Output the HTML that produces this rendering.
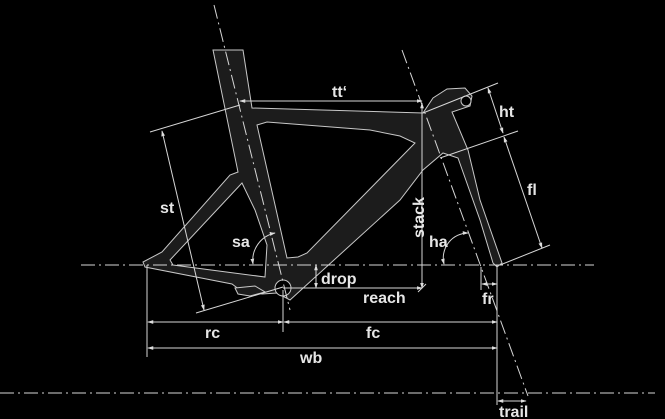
<!DOCTYPE html>
<html><head><meta charset="utf-8"><style>
html,body{margin:0;padding:0;background:#000;}
svg{display:block}
text{font-family:"Liberation Sans",sans-serif;font-weight:bold;fill:#e6e6e6;font-size:16px}
</style></head><body>
<svg width="665" height="419" viewBox="0 0 665 419" xmlns="http://www.w3.org/2000/svg">
<defs>
<marker id="a" viewBox="0 0 8 8" refX="7" refY="4" markerWidth="6" markerHeight="6" orient="auto-start-reverse"><path d="M0,1.5 L8,4 L0,6.5z" fill="#ddd"/></marker>
</defs>
<g fill="#1c1c1c" stroke="#c8c8c8" stroke-width="1">
<path d="M213,50 L243,50 L252,108 L423,113 L433,98 L447,89 L465,88 L472,96 L470,106 L452,112 L468,150 L480,200 L502,263 L497,267 L493,263 L480,220 L458,158 L443,153 L423,170 L400,200 L290,300 L277,293 L262,294 L240,290 L232,284 L145,267 L143,262 L162,252 L230,175 L238,172 Z"/>
<path d="M257,125 L267,122 L370,130 L400,136 L415,143 L307,253 L298,257 L287,258 Z" fill="#000"/>
<path d="M242,183 L170,260 L173,265 L265,277 L267,245 L255,210 Z" fill="#000"/>
<path d="M235,288 L255,286 L265,292 L250,296 L238,294 Z"/>
<circle cx="283" cy="288" r="8" fill="#000"/>
<circle cx="466" cy="101" r="5" fill="#000"/>
</g>
<g fill="none" stroke="#d6d6d6" stroke-width="1">
<line x1="81" y1="265" x2="594" y2="265" stroke-dasharray="14,4,2,4"/>
<line x1="0" y1="393" x2="655" y2="393" stroke-dasharray="14,4,2,4"/>
<line x1="214" y1="5" x2="290" y2="310" stroke-dasharray="14,4,2,4"/>
<line x1="402" y1="50" x2="528" y2="396" stroke-dasharray="14,4,2,4"/>
<line x1="150" y1="132" x2="240" y2="105"/>
<line x1="196" y1="313" x2="283" y2="287"/>
<line x1="162" y1="131" x2="204" y2="310" marker-start="url(#a)" marker-end="url(#a)"/>
<line x1="240" y1="101" x2="422" y2="101" marker-start="url(#a)" marker-end="url(#a)"/>
<line x1="422" y1="103" x2="422" y2="288" marker-start="url(#a)" marker-end="url(#a)"/>
<line x1="283" y1="288" x2="422" y2="288" marker-end="url(#a)"/>
<line x1="418" y1="292" x2="426" y2="284"/>
<line x1="316" y1="265" x2="316" y2="288" marker-start="url(#a)" marker-end="url(#a)"/>
<line x1="423" y1="113" x2="498" y2="83"/>
<line x1="440" y1="158" x2="518" y2="131"/>
<line x1="500" y1="265" x2="550" y2="245"/>
<line x1="488" y1="88" x2="503" y2="133" marker-start="url(#a)" marker-end="url(#a)"/>
<line x1="504" y1="137" x2="542" y2="248" marker-start="url(#a)" marker-end="url(#a)"/>
<line x1="481" y1="267" x2="481" y2="290"/>
<line x1="482" y1="284" x2="497" y2="284" marker-start="url(#a)" marker-end="url(#a)"/>
<line x1="147" y1="265" x2="147" y2="357"/>
<line x1="283" y1="290" x2="283" y2="332"/>
<line x1="497" y1="265" x2="497" y2="405"/>
<line x1="148" y1="322" x2="283" y2="322" marker-start="url(#a)" marker-end="url(#a)"/>
<line x1="284" y1="322" x2="497" y2="322" marker-start="url(#a)" marker-end="url(#a)"/>
<line x1="148" y1="348" x2="497" y2="348" marker-start="url(#a)" marker-end="url(#a)"/>
<line x1="498" y1="401" x2="526" y2="401" marker-start="url(#a)" marker-end="url(#a)"/>
<path d="M253,264 A28,28 0 0 1 275,233" marker-start="url(#a)" marker-end="url(#a)"/>
<path d="M444,264 A25,25 0 0 1 468,233" marker-start="url(#a)" marker-end="url(#a)"/>
</g>
<text x="332" y="97">tt‘</text>
<text x="160" y="213">st</text>
<text x="232" y="247">sa</text>
<text x="321" y="284">drop</text>
<text x="363" y="303">reach</text>
<text x="429" y="247">ha</text>
<text x="499" y="117">ht</text>
<text x="527" y="195">fl</text>
<text x="482" y="304">fr</text>
<text x="205" y="338">rc</text>
<text x="366" y="338">fc</text>
<text x="300" y="363">wb</text>
<text x="499" y="417">trail</text>
<text transform="translate(424,238) rotate(-90)">stack</text>
</svg>
</body></html>
